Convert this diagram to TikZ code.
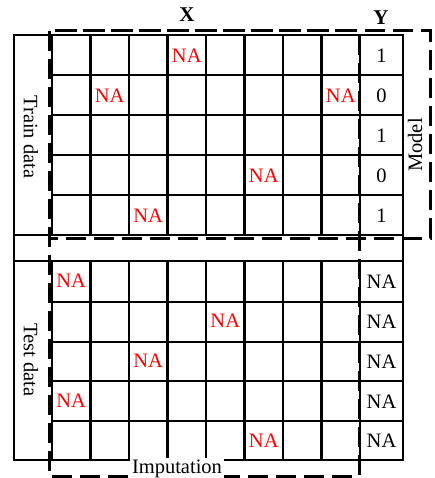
\documentclass[tikz,border=0pt]{standalone}
\usepackage{fontspec}
\setmainfont{Liberation Serif}
\begin{document}
\begin{tikzpicture}[x=1pt,y=-1pt,
  grid/.style={line width=2.1pt},
  dashbox/.style={line width=3pt, dash pattern=on 20pt off 8pt},
  txt/.style={font=\fontsize{20.5}{24}\selectfont, inner sep=0pt},
  na/.style={txt, text=red},
  yval/.style={txt, text=black},
  hdr/.style={font=\fontsize{21}{24}\selectfont\bfseries, inner sep=0pt}]
\useasboundingbox (0,0) rectangle (435,478);
% outer frame
\draw[grid] (14,35) rectangle (403,460);
% horizontal lines
\foreach \yy in {75,115,155,195} \draw[grid] (52,\yy) -- (403,\yy);
\draw[grid] (14,235) -- (403,235);
\draw[grid] (14,261) -- (403,261);
\foreach \yy in {301.8,341.6,381.4,421.2} \draw[grid] (52,\yy) -- (403,\yy);
% vertical lines in train and test blocks
\foreach \c in {0,...,8} {
  \draw[grid] ({52+38.5*\c},35) -- ({52+38.5*\c},235);
  \draw[grid] ({52+38.5*\c},261) -- ({52+38.5*\c},460);
}
% dashed boxes
\coordinate (mtl) at (49,31);
\coordinate (mbr) at (430,238);
\coordinate (ibr) at (359,476);
\draw[dashbox] (mtl) rectangle (mbr);
\draw[dashbox] (mtl) rectangle (ibr);
% headers
\node[hdr] (X) at (187,15) {X};
\node[hdr] (Y) at (381,18) {Y};
% side labels
\node[txt, rotate=-90] (train) at (31,137) {Train data};
\node[txt, rotate=-90] (test) at (31,360) {Test data};
\node[txt, rotate=90] (model) at (415,145) {Model};
\node[txt, fill=white, inner xsep=2pt, inner ysep=1pt, anchor=base] (imp) at (177,473) {Imputation};
% NA in train X
\node[na] (t1) at ({52+38.5*3.5},56) {NA};
\node[na] (t2) at ({52+38.5*1.5},96) {NA};
\node[na] (t3) at ({52+38.5*7.5},96) {NA};
\node[na] (t4) at ({52+38.5*5.5},176) {NA};
\node[na] (t5) at ({52+38.5*2.5},216) {NA};
% NA in test X
\node[na] (s1) at ({52+38.5*0.5},281) {NA};
\node[na] (s2) at ({52+38.5*4.5},321) {NA};
\node[na] (s3) at ({52+38.5*2.5},361) {NA};
\node[na] (s4) at ({52+38.5*0.5},401) {NA};
\node[na] (s5) at ({52+38.5*5.5},441) {NA};
% Y values
\node[yval] (y1) at (381.5,56) {1};
\node[yval] (y2) at (381.5,96) {0};
\node[yval] (y3) at (381.5,136) {1};
\node[yval] (y4) at (381.5,176) {0};
\node[yval] (y5) at (381.5,216) {1};
\foreach \r in {1,...,5}
  \node[yval] (yt\r) at (381.5,{261+39.8*(\r-0.5)+1}) {NA};
\end{tikzpicture}
\end{document}
